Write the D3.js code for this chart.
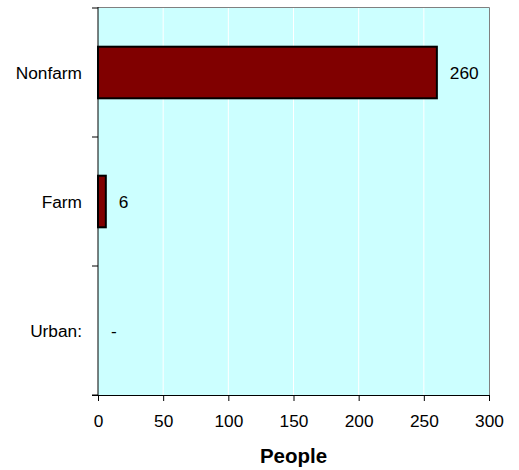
<!DOCTYPE html>
<html><head><meta charset="utf-8">
<script src="https://cdn.jsdelivr.net/npm/d3@7"></script>
<style>body{margin:0;background:#fff}svg{display:block}text{font-family:"Liberation Sans",Arial,sans-serif}</style>
</head><body>
<svg id="c" width="519" height="470"></svg>
<script>
const categories = ["Nonfarm", "Farm", "Urban:"];
const values = [260, 6, 0];
const valueLabels = ["260", "6", "-"];
const xTicks = [0, 50, 100, 150, 200, 250, 300];
const xTitle = "People";

const svg = d3.select("#c");
const L = 98, R = 489, T = 8, B = 395;
const FS = 17.3;
const x = d3.scaleLinear().domain([0, 300]).range([L, R]);
const y = d3.scaleBand().domain(categories).range([T, B]).paddingInner(0.6).paddingOuter(0.3);

svg.append("rect").attr("x", L).attr("y", T).attr("width", R - L).attr("height", B - T).attr("fill", "#CCFFFF");
svg.selectAll("line.grid").data(xTicks.slice(1, -1)).enter().append("line")
  .attr("x1", d => x(d)).attr("x2", d => x(d)).attr("y1", T).attr("y2", B)
  .attr("stroke", "#fff").attr("stroke-width", 1);
// top & right border
svg.append("path").attr("d", `M${L},${T - 0.5}H${R + 0.5}V${B}`).attr("fill", "none").attr("stroke", "#808080").attr("stroke-width", 1);

svg.selectAll("rect.bar").data(categories).enter().append("rect")
  .attr("x", x(0)).attr("y", d => y(d))
  .attr("width", (d, i) => x(values[i]) - x(0)).attr("height", y.bandwidth())
  .attr("fill", "#800000").attr("stroke", "#000").attr("stroke-width", 2)
  .attr("display", (d, i) => values[i] > 0 ? null : "none");

svg.selectAll("text.val").data(categories).enter().append("text")
  .attr("x", (d, i) => x(values[i]) + 13).attr("y", d => y(d) + y.bandwidth() / 2)
  .attr("dy", "0.35em").attr("font-size", FS).attr("fill", "#000")
  .text((d, i) => valueLabels[i]);

// y axis with category boundary ticks
const yAxis = svg.append("g");
yAxis.append("line").attr("x1", L).attr("x2", L).attr("y1", T - 1).attr("y2", B).attr("stroke", "#000");
const step = (B - T) / categories.length;
const bounds = d3.range(categories.length + 1).map(i => T + i * step);
yAxis.selectAll("line.t").data(bounds).enter().append("line")
  .attr("x1", L - 6).attr("x2", L).attr("y1", d => d).attr("y2", d => d).attr("stroke", "#000");
yAxis.selectAll("text").data(categories).enter().append("text")
  .attr("x", 82).attr("y", d => y(d) + y.bandwidth() / 2).attr("dy", "0.35em")
  .attr("text-anchor", "end").attr("font-size", FS).attr("fill", "#000").text(d => d);

// x axis
const xg = svg.append("g").attr("transform", `translate(0,${B})`)
  .call(d3.axisBottom(x).tickValues(xTicks).tickSize(6).tickPadding(14).tickFormat(d3.format("d")));
xg.select(".domain").attr("stroke", "#000").attr("d", `M${L - 6},0.5H${R}`);
xg.selectAll(".tick line").attr("stroke", "#000");
xg.selectAll("text").attr("font-size", FS).attr("fill", "#000").attr("font-family", "Liberation Sans, Arial, sans-serif");

svg.append("text").attr("x", (L + R) / 2).attr("y", 463).attr("text-anchor", "middle")
  .attr("font-size", 20.5).attr("font-weight", "bold").attr("fill", "#000").text(xTitle);
</script>
</body></html>
